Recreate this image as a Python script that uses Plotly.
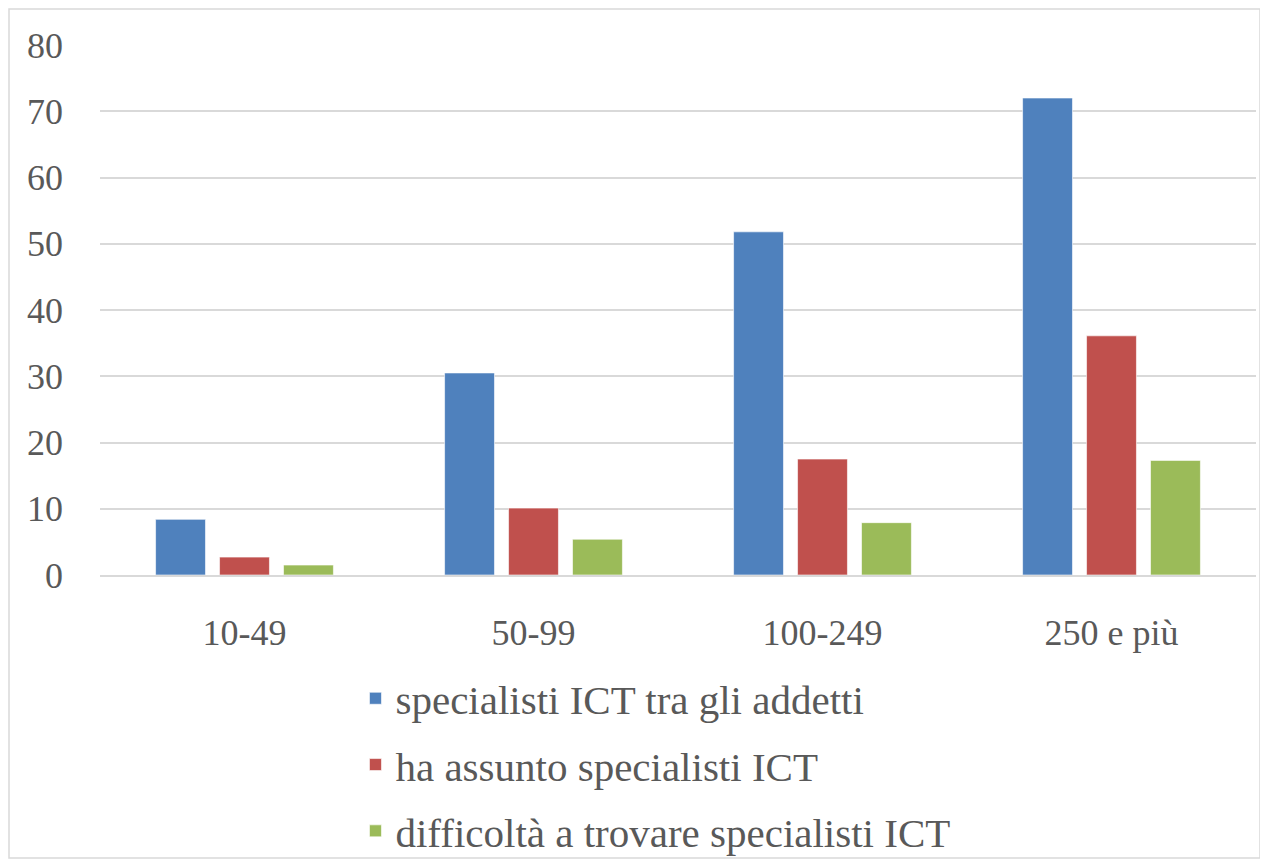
import plotly.graph_objects as go

categories = ["10-49", "50-99", "100-249", "250 e più"]
series_names = [
    "specialisti ICT tra gli addetti",
    "ha assunto specialisti ICT",
    "difficoltà a trovare specialisti ICT",
]
specialisti = [8.4, 30.5, 51.8, 72.0]
assunto = [2.7, 10.1, 17.5, 36.1]
difficolta = [1.5, 5.4, 7.9, 17.3]
colors = ["#4F81BD", "#C0504D", "#9BBB59"]
y_ticks = [0, 10, 20, 30, 40, 50, 60, 70, 80]

FONT = "Liberation Serif"
fig = go.Figure()
for i, (name, vals) in enumerate(zip(series_names, [specialisti, assunto, difficolta])):
    fig.add_trace(go.Bar(
        x=categories, y=vals, name=name, legendgroup=f"g{i}",
        marker=dict(color=colors[i], line=dict(color="rgba(255,255,255,0.6)", width=1)),
    ))

W, H = 1260, 858
L, T, R, B = 92, 37, 12, 291
PW, PH = W - L - R, H - T - B

fig.update_layout(
    width=W, height=H,
    paper_bgcolor="white", plot_bgcolor="white",
    margin=dict(l=L, r=R, t=T, b=B, autoexpand=False),
    barmode="group", bargap=0.336, bargroupgap=0.22,
    font=dict(family=FONT, size=36, color="#595959"),
    legend=dict(
        x=0.221, y=-0.17, xanchor="left", yanchor="top",
        orientation="v", traceorder="grouped", tracegroupgap=10,
        font=dict(family=FONT, size=41, color="#595959"),
        bgcolor="rgba(0,0,0,0)",
    ),
    showlegend=True,
    shapes=[dict(type="rect", xref="paper", yref="paper",
                 x0=(1 - L) / PW, x1=(1252 - L) / PW,
                 y0=(PH + T - 850) / PH, y1=(PH + T - 1) / PH,
                 line=dict(color="#d9d9d9", width=1.5), fillcolor="rgba(0,0,0,0)", layer="below")],
)
fig.update_yaxes(
    range=[0, 80], tickvals=y_ticks, showgrid=True, gridcolor="#d9d9d9", gridwidth=1.5,
    zeroline=False, showline=False, ticks="", ticklabelstandoff=36,
)
fig.update_xaxes(
    showline=True, linecolor="#d9d9d9", linewidth=1.5, ticks="", showgrid=False,
    ticklabelstandoff=25,
)

fig.write_html("out.html")
